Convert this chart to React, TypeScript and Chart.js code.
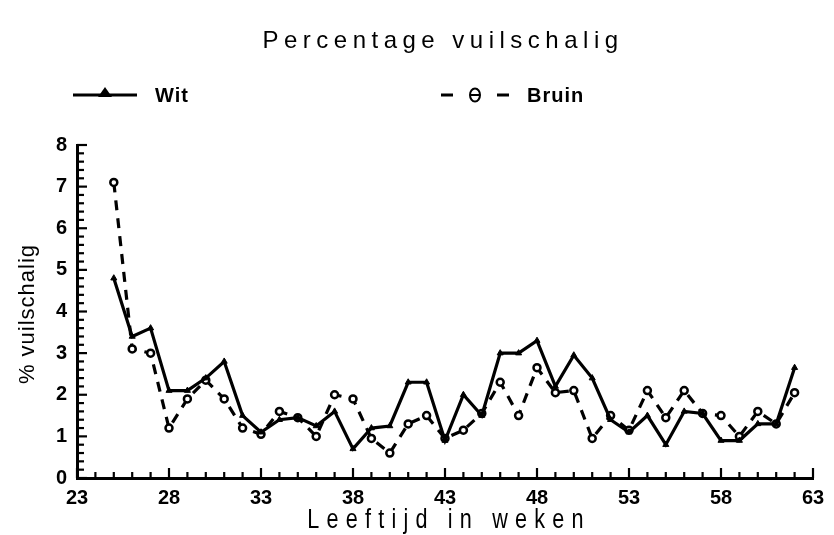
import React, { useEffect, useRef } from "react";
import { Chart, registerables } from "chart.js";

Chart.register(...registerables);

const weeks = [25, 26, 27, 28, 29, 30, 31, 32, 33, 34, 35, 36, 37, 38, 39, 40, 41, 42, 43, 44, 45, 46, 47, 48, 49, 50, 51, 52, 53, 54, 55, 56, 57, 58, 59, 60, 61, 62];
const wit = [4.8, 3.4, 3.6, 2.1, 2.1, 2.4, 2.8, 1.5, 1.1, 1.4, 1.45, 1.25, 1.6, 0.7, 1.2, 1.25, 2.3, 2.3, 0.9, 2.0, 1.5, 3.0, 3.0, 3.3, 2.2, 2.95, 2.4, 1.4, 1.1, 1.5, 0.8, 1.6, 1.55, 0.9, 0.9, 1.3, 1.3, 2.65];
const bruin = [7.1, 3.1, 3.0, 1.2, 1.9, 2.35, 1.9, 1.2, 1.05, 1.6, 1.45, 1.0, 2.0, 1.9, 0.95, 0.6, 1.3, 1.5, 0.95, 1.15, 1.55, 2.3, 1.5, 2.65, 2.05, 2.1, 0.95, 1.5, 1.15, 2.1, 1.45, 2.1, 1.55, 1.5, 1.0, 1.6, 1.3, 2.05];
const xTickLabels = [23, 28, 33, 38, 43, 48, 53, 58, 63];
const yTickLabels = [0, 1, 2, 3, 4, 5, 6, 7, 8];

const titleText = "Percentage vuilschalig";
const xTitle = "Leeftijd in weken";
const yTitle = "% vuilschalig";
const seriesNames = ["Wit", "Bruin"];

const FONT = "'Liberation Sans', Arial, sans-serif";

const decorPlugin = {
  id: "decor",
  afterDraw(chart: any) {
    const ctx = chart.ctx as CanvasRenderingContext2D;
    const xs = chart.scales.x;
    const ys = chart.scales.y;
    const ca = chart.chartArea;
    ctx.save();
    ctx.strokeStyle = "#000";
    ctx.fillStyle = "#000";
    ctx.lineWidth = 2.2;
    for (let w = 23; w <= 63; w++) {
      const px = xs.getPixelForValue(w);
      const major = xTickLabels.includes(w);
      ctx.beginPath();
      ctx.moveTo(px, ca.bottom);
      ctx.lineTo(px, ca.bottom - (major ? 10 : 6));
      ctx.stroke();
    }
    for (let i = 0; i <= 40; i++) {
      const v = i * 0.2;
      const py = ys.getPixelForValue(v);
      const major = i % 5 === 0;
      ctx.beginPath();
      ctx.moveTo(ca.left, py);
      ctx.lineTo(ca.left + (major ? 10 : 7), py);
      ctx.stroke();
    }
    // title
    ctx.textAlign = "center";
    ctx.textBaseline = "middle";
    (ctx as any).letterSpacing = "5.5px";
    ctx.font = `24px ${FONT}`;
    ctx.fillText(titleText, 443, 41);
    // legend
    (ctx as any).letterSpacing = "1px";
    ctx.font = `bold 20px ${FONT}`;
    ctx.textAlign = "left";
    ctx.lineWidth = 3;
    ctx.setLineDash([]);
    ctx.beginPath();
    ctx.moveTo(73, 95);
    ctx.lineTo(137, 95);
    ctx.stroke();
    ctx.beginPath();
    ctx.moveTo(105, 87);
    ctx.lineTo(112, 97);
    ctx.lineTo(98, 97);
    ctx.closePath();
    ctx.fill();
    ctx.fillText(seriesNames[0], 155, 96);
    ctx.beginPath();
    ctx.moveTo(441, 95);
    ctx.lineTo(453, 95);
    ctx.moveTo(497, 95);
    ctx.lineTo(509, 95);
    ctx.stroke();
    ctx.lineWidth = 2;
    ctx.beginPath();
    ctx.ellipse(475, 95, 5, 6.5, 0, 0, Math.PI * 2);
    ctx.stroke();
    ctx.beginPath();
    ctx.moveTo(470, 95);
    ctx.lineTo(480, 95);
    ctx.stroke();
    ctx.fillText(seriesNames[1], 527, 96);
    // x title (condensed)
    ctx.save();
    ctx.textAlign = "center";
    (ctx as any).letterSpacing = "9px";
    ctx.font = `27px ${FONT}`;
    ctx.translate(449, 521);
    ctx.scale(0.8, 1);
    ctx.fillText(xTitle, 0, 0);
    ctx.restore();
    // y title
    ctx.textAlign = "center";
    ctx.textBaseline = "middle";
    (ctx as any).letterSpacing = "1px";
    ctx.font = `22px ${FONT}`;
    ctx.translate(28, 314);
    ctx.rotate(-Math.PI / 2);
    ctx.fillText(yTitle, 0, 0);
    ctx.restore();
  },
};

export default function App() {
  const ref = useRef<HTMLCanvasElement>(null);
  useEffect(() => {
    if (!ref.current) return;
    const chart = new Chart(ref.current, {
      type: "line",
      data: {
        datasets: [
          {
            label: seriesNames[0],
            data: weeks.map((w, i) => ({ x: w, y: wit[i] })),
            borderColor: "#000",
            backgroundColor: "#000",
            borderWidth: 3.2,
            pointStyle: "triangle",
            pointRadius: 3.5,
            pointBorderWidth: 1,
            pointBackgroundColor: "#000",
            pointBorderColor: "#000",
            tension: 0,
          },
          {
            label: seriesNames[1],
            data: weeks.map((w, i) => ({ x: w, y: bruin[i] })),
            borderColor: "#000",
            backgroundColor: "#fff",
            borderWidth: 3.2,
            borderDash: [10, 8],
            pointStyle: "circle",
            pointRadius: 3.5,
            pointBorderWidth: 2.5,
            pointBackgroundColor: "#fff",
            pointBorderColor: "#000",
            tension: 0,
          },
        ],
      },
      options: {
        animation: false,
        responsive: false,
        layout: { padding: { top: 145, right: 21, left: 0, bottom: 0 } },
        plugins: {
          legend: { display: false },
          title: { display: false },
          tooltip: { enabled: false },
        },
        scales: {
          x: {
            type: "linear",
            min: 23,
            max: 63,
            afterBuildTicks: (s: any) => {
              s.ticks = xTickLabels.map((v) => ({ value: v }));
            },
            afterFit: (s: any) => {
              s.height = 57;
            },
            grid: { display: false, drawTicks: false },
            border: { display: true, color: "#000", width: 3 },
            ticks: {
              color: "#000",
              padding: 8,
              maxRotation: 0,
              autoSkip: false,
              font: { family: FONT, size: 20, weight: "bold" },
            },
          },
          y: {
            type: "linear",
            min: 0,
            max: 8,
            afterBuildTicks: (s: any) => {
              s.ticks = yTickLabels.map((v) => ({ value: v }));
            },
            afterFit: (s: any) => {
              s.width = 77;
            },
            grid: { display: false, drawTicks: false },
            border: { display: true, color: "#000", width: 3 },
            ticks: {
              color: "#000",
              padding: 10,
              font: { family: FONT, size: 20, weight: "bold" },
            },
          },
        },
      },
      plugins: [decorPlugin],
    });
    return () => chart.destroy();
  }, []);
  return (
    <div style={{ position: "fixed", left: 0, top: 0, width: 834, height: 535, background: "#fff" }}>
      <canvas ref={ref} width={834} height={535} style={{ display: "block" }} />
    </div>
  );
}
